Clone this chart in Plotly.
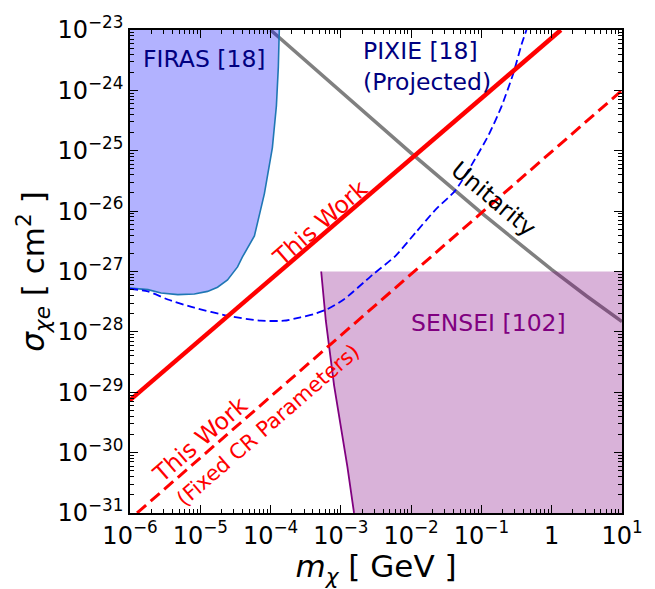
import plotly.graph_objects as go
import math

# ---------------- data ----------------
firas_x = [1e-6, 1.80e-6, 2.77e-6, 4.79e-6, 8.24e-6, 1.27e-5, 1.76e-5, 2.44e-5,
           3.39e-5, 3.98e-5, 5.89e-5, 8.17e-5, 1.06e-4, 1.21e-4, 1.29e-4, 1.33e-4]
firas_y = [5.30e-28, 5.01e-28, 4.40e-28, 4.14e-28, 4.24e-28, 4.68e-28, 5.50e-28,
           7.24e-28, 1.19e-27, 1.74e-27, 3.89e-27, 1.95e-26, 1.12e-25, 5.5e-25,
           2.45e-24, 1e-23]

pixie_x = [1e-6, 1.80e-6, 3.45e-6, 8.24e-6, 2.44e-5, 7.24e-5, 1.55e-4, 2.67e-4,
           4.13e-4, 6.38e-4, 1.10e-3, 2.79e-3, 6.0e-3, 1.15e-2, 2.21e-2, 4.24e-2,
           7.29e-2, 0.126, 0.194, 0.284, 0.372, 0.437]
pixie_y = [5.18e-28, 4.68e-28, 3.44e-28, 2.51e-28, 1.85e-28, 1.53e-28, 1.53e-28,
           1.74e-28, 1.97e-28, 2.37e-28, 3.44e-28, 8.71e-28, 1.82e-27, 4.37e-27,
           1.05e-26, 2.19e-26, 5.89e-26, 1.80e-25, 5.50e-25, 1.91e-24, 5.75e-24, 1e-23]

sensei_x = [5.25e-4, 6.11e-4, 8.02e-4, 1.24e-3, 1.54e-3]
sensei_y = [1e-27, 1.53e-28, 1.29e-29, 5.82e-31, 1e-31]
sensei_top = 1e-27

unit_x = [1e-4, 1e-3, 1e-2, 0.1, 1, 3.16, 10]
unit_y = [1e-23, 9.55e-25, 9.12e-26, 9.33e-27, 1.07e-27, 3.89e-28, 1.48e-28]

work_x = [1e-6, 1e-3, 1.35]
work_y = [7.4e-30, 7.4e-27, 1e-23]

fixed_x = [1.26e-6, 10]
fixed_y = [1e-31, 1e-24]

x_range = [1e-6, 10]
y_range = [1e-31, 1e-23]

x_tickvals = [1e-6, 1e-5, 1e-4, 1e-3, 1e-2, 1e-1, 1, 10]
x_ticktext = ["10<sup>\u22126</sup>", "10<sup>\u22125</sup>", "10<sup>\u22124</sup>",
              "10<sup>\u22123</sup>", "10<sup>\u22122</sup>", "10<sup>\u22121</sup>",
              "1", "10<sup>1</sup>"]
y_tickvals = [1e-31, 1e-30, 1e-29, 1e-28, 1e-27, 1e-26, 1e-25, 1e-24, 1e-23]
y_ticktext = ["10<sup>\u2212%d</sup>" % e for e in [31, 30, 29, 28, 27, 26, 25, 24, 23]]

# ---------------- figure ----------------
FONT = "DejaVu Sans"
fig = go.Figure()

# unitarity (under the fills)
fig.add_trace(go.Scatter(x=unit_x, y=unit_y, mode="lines",
                         line=dict(color="#808080", width=3.5), showlegend=False))

# FIRAS fill
fig.add_trace(go.Scatter(x=firas_x + [x_range[0]], y=firas_y + [y_range[1]],
                         mode="lines", fill="toself",
                         fillcolor="rgba(0,0,255,0.3)", line=dict(width=0),
                         showlegend=False))
fig.add_trace(go.Scatter(x=firas_x, y=firas_y, mode="lines",
                         line=dict(color="#1f77b4", width=1.6), showlegend=False))

# SENSEI fill
fig.add_trace(go.Scatter(x=sensei_x + [x_range[1], x_range[1]],
                         y=sensei_y + [y_range[0], sensei_top],
                         mode="lines", fill="toself",
                         fillcolor="rgba(128,0,128,0.3)", line=dict(width=0),
                         showlegend=False))
fig.add_trace(go.Scatter(x=sensei_x, y=sensei_y, mode="lines",
                         line=dict(color="#800080", width=1.8), showlegend=False))

# PIXIE projected
fig.add_trace(go.Scatter(x=pixie_x, y=pixie_y, mode="lines", line_shape="spline",
                         line=dict(color="#0000ff", width=1.8, dash="8px,4px", smoothing=0.6),
                         showlegend=False))

# This work (fixed CR)
fig.add_trace(go.Scatter(x=fixed_x, y=fixed_y, mode="lines",
                         line=dict(color="#ff0000", width=3, dash="12px,6px"),
                         showlegend=False))
# This work
fig.add_trace(go.Scatter(x=work_x, y=work_y, mode="lines",
                         line=dict(color="#ff0000", width=4.5), showlegend=False))

def ann(text, lx, ly, color, size, angle=0, **kw):
    fig.add_annotation(x=lx, y=ly, xref="x", yref="y", text=text, showarrow=False,
                       textangle=angle, font=dict(family=FONT, size=size, color=color), **kw)

ann("FIRAS [18]", math.log10(1.15e-5), math.log10(3.3e-24), "#000080", 23.5)
ann("PIXIE [18]<br>(Projected)", math.log10(1.95e-3), math.log10(2.5e-24), "#000080", 23.5,
    xanchor="left", align="left")
ann("SENSEI [102]", math.log10(0.128), math.log10(1.38e-28), "#800080", 23.5)
ann("Unitarity", math.log10(0.15), math.log10(1.6e-26), "black", 23.5, angle=40)
ann("This Work", math.log10(5.1e-4), math.log10(6.3e-27), "#ff0000", 23.5, angle=-41)
ann("This Work", math.log10(9.8e-6), math.log10(1.62e-30), "#ff0000", 23.5, angle=-41)
ann("(Fixed CR Parameters)", math.log10(9.3e-5), math.log10(2.9e-30), "#ff0000", 21, angle=-41)

minor_x = [k * 10 ** e for e in range(-6, 1) for k in range(2, 10)]
minor_y = [k * 10 ** e for e in range(-31, -23) for k in range(2, 10)]

axis_common = dict(type="log", showline=True, linecolor="black", linewidth=1.5,
                   mirror="allticks", ticks="inside", ticklen=8, tickwidth=1.4,
                   tickcolor="black", showgrid=False, zeroline=False,
                   tickfont=dict(family=FONT, size=24, color="black"),
                   tickmode="array")

fig.update_xaxes(**axis_common, range=[math.log10(v) for v in x_range],
                 tickvals=x_tickvals, ticktext=x_ticktext,
                 minor=dict(tickmode="array", tickvals=minor_x, ticks="inside",
                            ticklen=4, tickwidth=1, tickcolor="black", showgrid=False),
                 title=dict(text="<i>m</i><sub><i>\u03c7</i></sub> [ GeV ]",
                            font=dict(family=FONT, size=31, color="black"), standoff=6))
fig.update_yaxes(**axis_common, range=[math.log10(v) for v in y_range],
                 tickvals=y_tickvals, ticktext=y_ticktext,
                 minor=dict(tickmode="array", tickvals=minor_y, ticks="inside",
                            ticklen=4, tickwidth=1, tickcolor="black", showgrid=False),
                 title=dict(text="<i>\u03c3</i><sub><i>\u03c7e</i></sub> [ cm<sup>2</sup> ]",
                            font=dict(family=FONT, size=31, color="black"), standoff=4))

fig.update_layout(width=655, height=589, margin=dict(l=130, r=31, t=22, b=72),
                  paper_bgcolor="white", plot_bgcolor="white",
                  font=dict(family=FONT, color="black"), showlegend=False)

fig.write_html("out.html")
